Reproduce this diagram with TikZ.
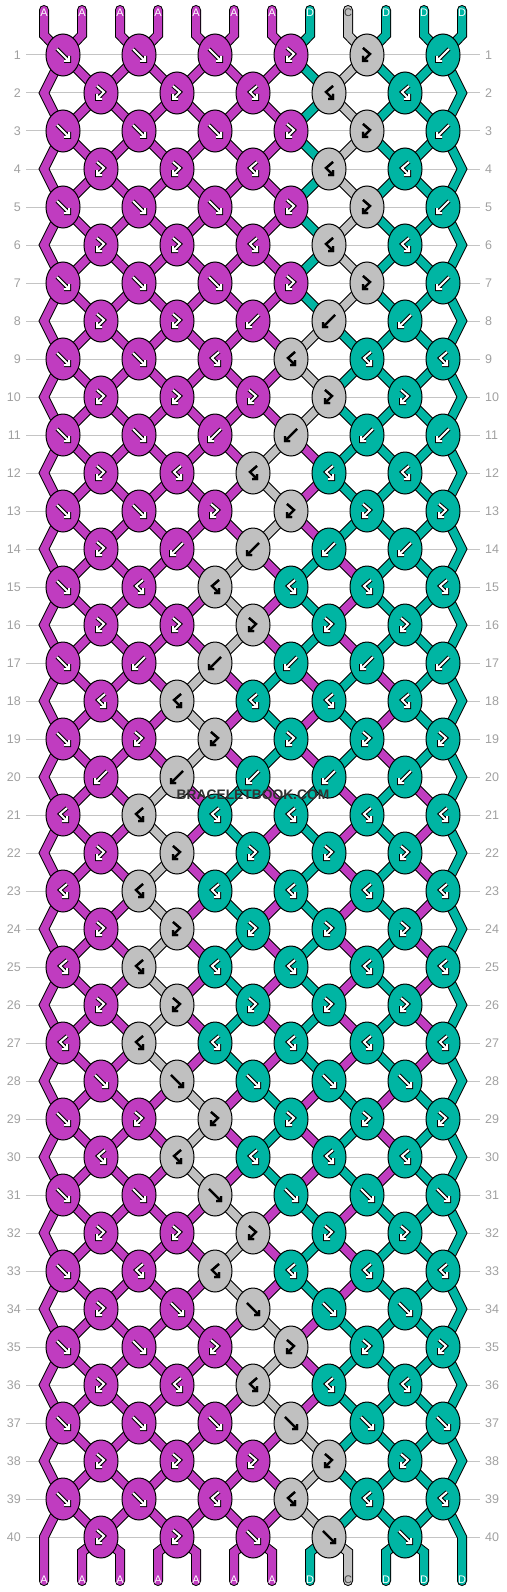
\documentclass[tikz,border=0pt]{standalone}
\usepackage{fontspec}
\setmainfont{Liberation Sans}
\usetikzlibrary{shapes.geometric}

\definecolor{cA}{HTML}{C03CC0}
\definecolor{cC}{HTML}{C0C0C0}
\definecolor{cD}{HTML}{00B5A3}
\definecolor{lA}{HTML}{FFFFFF}
\definecolor{lD}{HTML}{FFFFFF}
\definecolor{lC}{HTML}{404040}
\definecolor{rowgrey}{HTML}{C4C4C4}
\definecolor{numgrey}{HTML}{A0A0A0}
\definecolor{markgrey}{HTML}{333333}

\pgfdeclarelayer{bg}
\pgfsetlayers{bg,main}

% knot colour: f and B take the right thread, b and F the left one
\def\pickf#1#2{#2}
\def\pickB#1#2{#2}
\def\pickb#1#2{#1}
\def\pickF#1#2{#1}
\def\readknot#1#2#3\relax{\def\ktype{#1}\def\kl{#2}\def\kr{#3}}

\newcommand\glyphpath[2]{%
  \draw[glyph out, shift={(#1)}] #2;
  \draw[glyph in, shift={(#1)}] #2;}
\newcommand\arrowf[1]{\glyphpath{#1}{(-6,-6) -- (5.5,5.5) (6,1) -- (6,6) -- (1,6)}}
\newcommand\arrowb[1]{\glyphpath{#1}{(6,-6) -- (-5.5,5.5) (-6,1) -- (-6,6) -- (-1,6)}}
\newcommand\arrowF[1]{\glyphpath{#1}{(-4,-7) -- (3,-1) -- (-3.5,5.5) (-4,1) -- (-4,6) -- (1,6)}}
\newcommand\arrowB[1]{\glyphpath{#1}{(4,-7) -- (-3,-1) -- (3.5,5.5) (4,1) -- (4,6) -- (-1,6)}}

\tikzset{
  knot/.style={ellipse, draw=black, line width=1pt, minimum width=34pt, minimum height=42pt, inner sep=0pt},
  thread/.style={draw=black, line width=1pt, double=#1, double distance=8pt, line join=miter},
  glyph out/.style={draw=black, line width=\glyphw, line cap=square, line join=miter},
  glyph in/.style={draw=\glyphc, line width=2pt, line cap=square, line join=miter},
  rowline/.style={draw=rowgrey, line width=1pt},
  rownum/.style={text=numgrey, font=\fontsize{12.5}{12.5}\selectfont, inner sep=0pt},
  strandlbl/.style={font=\fontsize{11}{11}\selectfont, inner sep=0pt}
}

% one entry per knot: type, left and right thread after the row
\def\knotdata{%
{fAA,fAA,fAA,FAD,FCD,bDD},% 1
{FAA,FAA,BAA,BDC,BDD},% 2
{fAA,fAA,fAA,FAD,FCD,bDD},% 3
{FAA,FAA,BAA,BDC,BDD},% 4
{fAA,fAA,fAA,FAD,FCD,bDD},% 5
{FAA,FAA,BAA,BDC,BDD},% 6
{fAA,fAA,fAA,FAD,FCD,bDD},% 7
{FAA,FAA,bAA,bCD,bDD},% 8
{fAA,fAA,BAA,BAC,BDD,BDD},% 9
{FAA,FAA,FAA,FCD,FDD},% 10
{fAA,fAA,bAA,bCA,bDD,bDD},% 11
{FAA,BAA,BAC,BAD,BDD},% 12
{fAA,fAA,FAA,FCA,FDD,FDD},% 13
{FAA,bAA,bCA,bDA,bDD},% 14
{fAA,BAA,BAC,BAD,BAD,BDD},% 15
{FAA,FAA,FCA,FDA,FDD},% 16
{fAA,bAA,bCA,bDA,bDA,bDD},% 17
{BAA,BAC,BAD,BAD,BAD},% 18
{fAA,FAA,FCA,FDA,FDA,FDD},% 19
{bAA,bCA,bDA,bDA,bDA},% 20
{BAA,BAC,BAD,BAD,BAD,BAD},% 21
{FAA,FCA,FDA,FDA,FDA},% 22
{BAA,BAC,BAD,BAD,BAD,BAD},% 23
{FAA,FCA,FDA,FDA,FDA},% 24
{BAA,BAC,BAD,BAD,BAD,BAD},% 25
{FAA,FCA,FDA,FDA,FDA},% 26
{BAA,BAC,BAD,BAD,BAD,BAD},% 27
{fAA,fAC,fAD,fAD,fAD},% 28
{fAA,FAA,FCA,FDA,FDA,FDD},% 29
{BAA,BAC,BAD,BAD,BAD},% 30
{fAA,fAA,fAC,fAD,fAD,fDD},% 31
{FAA,FAA,FCA,FDA,FDD},% 32
{fAA,BAA,BAC,BAD,BAD,BDD},% 33
{FAA,fAA,fAC,fAD,fDD},% 34
{fAA,fAA,FAA,FCA,FDD,FDD},% 35
{FAA,BAA,BAC,BAD,BDD},% 36
{fAA,fAA,fAA,fAC,fDD,fDD},% 37
{FAA,FAA,FAA,FCD,FDD},% 38
{fAA,fAA,BAA,BAC,BDD,BDD},% 39
{FAA,FAA,fAA,fDC,fDD}% 40
}

\begin{document}
\begin{tikzpicture}[x=1pt,y=-1pt]
\useasboundingbox (0,0) rectangle (506,1592);

% strand letters, top and bottom
\foreach \lbl [count=\sno] in {A,A,A,A,A,A,A,D,C,D,D,D} {
  \node[strandlbl, text=l\lbl] (t-\sno) at ({44+38*(\sno-1)},13) {\lbl};
  \node[strandlbl, text=l\lbl] (b-\sno) at ({44+38*(\sno-1)},1580) {\lbl};
}

% row numbers
\foreach \rowno in {1,...,40} {
  \node[rownum, anchor=east] (nl-\rowno) at (21,{55+38*(\rowno-1)}) {\rowno};
  \node[rownum, anchor=west] (nr-\rowno) at (485,{55+38*(\rowno-1)}) {\rowno};
}

% knots
\foreach \row [count=\rowno] in \knotdata {
  \pgfmathsetmacro\ky{55+38*(\rowno-1)}
  \foreach \kn [count=\kno] in \row {
    \expandafter\readknot\kn\relax
    \edef\kc{\csname pick\ktype\endcsname{\kl}{\kr}}
    \ifodd\rowno \pgfmathsetmacro\kx{63+76*(\kno-1)}\else \pgfmathsetmacro\kx{101+76*(\kno-1)}\fi
    \node[knot, fill=c\kc] (k-\rowno-\kno) at (\kx,\ky) {};
    \if C\kc \def\glyphw{2.4pt}\def\glyphc{black}\else \def\glyphw{4pt}\def\glyphc{white}\fi
    \csname arrow\ktype\endcsname{k-\rowno-\kno.center}
  }
}

\begin{pgfonlayer}{bg}
\foreach \rowno in {1,...,40}
  \draw[rowline] ([xshift=5pt]nl-\rowno.east) -- ([xshift=-5pt]nr-\rowno.west);

% threads coming in at the top
\foreach \lbl [count=\sno] in {A,A,A,A,A,A,A,D,C,D,D,D} {
  \pgfmathtruncatemacro\kno{(\sno+1)/2}
  \draw[thread=c\lbl, line cap=round] ([yshift=3pt]t-\sno.center) -- ++(0,25) -- (k-1-\kno.center);
}

% threads between the rows
\foreach \row [count=\rowno] in \knotdata {
  \pgfmathtruncatemacro\rn{\rowno+1}
  \pgfmathtruncatemacro\rnn{\rowno+2}
  \foreach \kn [count=\kno] in \row {
    \expandafter\readknot\kn\relax
    \pgfmathtruncatemacro\kp{\kno-1}
    \pgfmathtruncatemacro\kq{\kno+1}
    \ifodd\rowno
      \ifnum\kno=1
        \ifnum\rowno<39
          \draw[thread=c\kl] (k-\rowno-1.center) -- ([xshift=-57pt]k-\rn-1.center) -- (k-\rnn-1.center);
        \else
          \draw[thread=c\kl, line cap=round] (k-\rowno-1.center) -- ([xshift=-57pt]k-\rn-1.center) -- ([yshift=-1pt]b-1.center);
        \fi
      \else
        \draw[thread=c\kl] (k-\rowno-\kno.center) -- (k-\rn-\kp.center);
      \fi
      \ifnum\kno=6
        \ifnum\rowno<39
          \draw[thread=c\kr] (k-\rowno-6.center) -- ([xshift=57pt]k-\rn-5.center) -- (k-\rnn-6.center);
        \else
          \draw[thread=c\kr, line cap=round] (k-\rowno-6.center) -- ([xshift=57pt]k-\rn-5.center) -- ([yshift=-1pt]b-12.center);
        \fi
      \else
        \draw[thread=c\kr] (k-\rowno-\kno.center) -- (k-\rn-\kno.center);
      \fi
    \else
      \ifnum\rowno<40
        \draw[thread=c\kl] (k-\rowno-\kno.center) -- (k-\rn-\kno.center);
        \draw[thread=c\kr] (k-\rowno-\kno.center) -- (k-\rn-\kq.center);
      \else
        \pgfmathtruncatemacro\posl{2*\kno}
        \pgfmathtruncatemacro\posr{2*\kno+1}
        \draw[thread=c\kl, line cap=round] (k-40-\kno.center) -- ([yshift=28pt]b-\posl.center) -- ([yshift=-1pt]b-\posl.center);
        \draw[thread=c\kr, line cap=round] (k-40-\kno.center) -- ([yshift=28pt]b-\posr.center) -- ([yshift=-1pt]b-\posr.center);
      \fi
    \fi
  }
}
\end{pgfonlayer}

\node[font=\bfseries\fontsize{13.8}{13.8}\selectfont, text=markgrey, inner sep=0pt] (mark) at (253,795) {BRACELETBOOK.COM};
\end{tikzpicture}
\end{document}
